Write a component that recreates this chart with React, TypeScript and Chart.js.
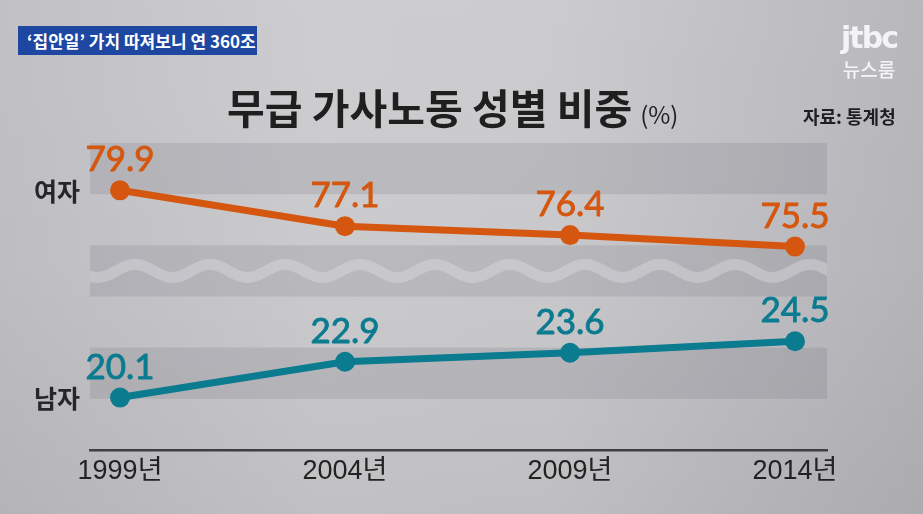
import React, { useEffect, useRef } from "react";
import { Chart, registerables } from "chart.js";

Chart.register(...registerables);

const years = [1999, 2004, 2009, 2014];
const xTickLabels = ["1999년", "2004년", "2009년", "2014년"];
const femaleShare = [79.9, 77.1, 76.4, 75.5];
const maleShare = [20.1, 22.9, 23.6, 24.5];
const seriesNames = ["여자", "남자"];
const seriesColors = ["#d5570f", "#0b7b90"];

const W = 923;
const H = 514;
const CJK = "'Noto Sans CJK KR', 'Noto Sans', sans-serif";

const bandsPlugin = {
  id: "bands",
  beforeDatasetsDraw(chart: any) {
    const { ctx, chartArea } = chart;
    const yM = chart.scales.yM;
    const left = chartArea.left;
    const right = chartArea.right;
    ctx.save();
    const bands = [
      [36, 40],
      [28, 32],
      [20, 24],
    ];
    ctx.fillStyle = "rgba(80,80,95,0.14)";
    bands.forEach(([a, b]) => {
      const y1 = yM.getPixelForValue(b);
      const y2 = yM.getPixelForValue(a);
      ctx.fillRect(left, y1, right - left, y2 - y1);
    });
    // wavy break line in the middle band
    const top = yM.getPixelForValue(32);
    const bot = yM.getPixelForValue(28);
    const cy = yM.getPixelForValue(30);
    ctx.beginPath();
    ctx.rect(left, top, right - left, bot - top);
    ctx.clip();
    ctx.beginPath();
    const amp = 6.5;
    const period = 75;
    for (let x = left - 10; x <= right + 10; x += 1) {
      const y = cy - amp * Math.cos((2 * Math.PI * (x - 135)) / period);
      if (x === left - 10) ctx.moveTo(x, y);
      else ctx.lineTo(x, y);
    }
    ctx.strokeStyle = "rgba(225,225,230,0.38)";
    ctx.lineWidth = 11;
    ctx.stroke();
    ctx.restore();
  },
};

const labelsPlugin = {
  id: "valueLabels",
  afterDatasetsDraw(chart: any) {
    const { ctx } = chart;
    ctx.save();
    chart.data.datasets.forEach((ds: any, di: number) => {
      const meta = chart.getDatasetMeta(di);
      ctx.fillStyle = ds.borderColor;
      ctx.strokeStyle = ds.borderColor;
      ctx.lineWidth = 0.9;
      ctx.lineJoin = "round";
      ctx.font = "35px Lato, 'Open Sans', sans-serif";
      ctx.textAlign = "center";
      ctx.textBaseline = "alphabetic";
      meta.data.forEach((pt: any, i: number) => {
        const v = ds.data[i].y;
        ctx.fillText(v.toFixed(1), pt.x, pt.y - 19);
        ctx.strokeText(v.toFixed(1), pt.x, pt.y - 19);
      });
      const first = meta.data[0];
      ctx.fillStyle = "#262626";
      ctx.font = "bold 25px " + CJK;
      ctx.textAlign = "right";
      ctx.textBaseline = "middle";
      ctx.fillText(ds.label, 80, first.y + 1);
    });
    ctx.restore();
  },
};

export default function App() {
  const canvasRef = useRef<HTMLCanvasElement | null>(null);

  useEffect(() => {
    const prevMargin = document.body.style.margin;
    document.body.style.margin = "0";
    const canvas = canvasRef.current;
    if (!canvas) return;
    const chart = new Chart(canvas, {
      type: "line",
      data: {
        datasets: [
          {
            label: seriesNames[0],
            data: years.map((y, i) => ({ x: y, y: femaleShare[i] })),
            borderColor: seriesColors[0],
            backgroundColor: seriesColors[0],
            pointBackgroundColor: seriesColors[0],
            borderWidth: 7,
            pointRadius: 10,
            pointBorderWidth: 0,
            yAxisID: "yF",
            clip: false,
            tension: 0,
          },
          {
            label: seriesNames[1],
            data: years.map((y, i) => ({ x: y, y: maleShare[i] })),
            borderColor: seriesColors[1],
            backgroundColor: seriesColors[1],
            pointBackgroundColor: seriesColors[1],
            borderWidth: 7,
            pointRadius: 10,
            pointBorderWidth: 0,
            yAxisID: "yM",
            clip: false,
            tension: 0,
          },
        ],
      },
      options: {
        responsive: false,
        animation: false,
        layout: { padding: { left: 90, right: 96, top: 143, bottom: 0 } },
        plugins: {
          legend: { display: false },
          tooltip: { enabled: false },
          title: { display: false },
        },
        scales: {
          x: {
            type: "linear",
            min: 1998.333,
            max: 2014.711,
            afterFit: (s: any) => {
              s.height = 64;
            },
            afterBuildTicks: (s: any) => {
              s.ticks = years.map((v) => ({ value: v }));
            },
            grid: { display: false, drawTicks: false },
            border: { display: true, color: "#3f3f42", width: 2.5 },
            ticks: {
              padding: 5,
              color: "#222222",
              font: { family: "'Liberation Sans', 'Noto Sans CJK KR', sans-serif", size: 27 },
              maxRotation: 0,
              autoSkip: false,
              callback: (v: any) => xTickLabels[years.indexOf(Number(v))] ?? "",
            },
          },
          yF: { type: "linear", display: false, min: 59.6, max: 83.6 },
          yM: { type: "linear", display: false, min: 16, max: 40 },
        },
      },
      plugins: [bandsPlugin, labelsPlugin],
    });
    return () => {
      chart.destroy();
      document.body.style.margin = prevMargin;
    };
  }, []);

  return (
    <div
      style={{
        position: "fixed",
        left: 0,
        top: 0,
        width: W,
        height: H,
        overflow: "hidden",
        background:
          "linear-gradient(to right, #bebec2 0%, #cbcbce 35%, #c9c9cc 60%, #b4b4b9 100%)",
      }}
    >
      <div
        style={{
          position: "absolute",
          left: 0,
          top: 0,
          width: W,
          height: H,
          background: "linear-gradient(to bottom, rgba(255,255,255,0.05) 0%, rgba(255,255,255,0) 50%, rgba(0,0,0,0.05) 100%)",
        }}
      />
      <canvas ref={canvasRef} width={W} height={H} style={{ position: "absolute", left: 0, top: 0 }} />
      <div
        style={{
          position: "absolute",
          left: 18,
          top: 26,
          width: 239,
          height: 29,
          background: "#1d47a0",
          color: "#ffffff",
          fontFamily: CJK,
          fontWeight: 700,
          fontSize: 17,
          lineHeight: "29px",
          paddingLeft: 9,
          boxSizing: "border-box",
          whiteSpace: "nowrap",
        }}
      >
        ‘집안일’ 가치 따져보니 연 360조
      </div>
      <div
        style={{
          position: "absolute",
          left: 227,
          top: 84,
          fontFamily: CJK,
          fontWeight: 700,
          fontSize: 41,
          lineHeight: "44px",
          color: "#1f1f1f",
          whiteSpace: "nowrap",
        }}
      >
        무급 가사노동 성별 비중
        <span style={{ fontSize: 24, fontWeight: 400, marginLeft: 8 }}>(%)</span>
      </div>
      <div
        style={{
          position: "absolute",
          left: 803,
          top: 103,
          fontFamily: CJK,
          fontWeight: 700,
          fontSize: 18,
          lineHeight: "26px",
          color: "#1f1f1f",
          whiteSpace: "nowrap",
        }}
      >
        자료: 통계청
      </div>
      <div
        style={{
          position: "absolute",
          left: 840,
          top: 20,
          width: 58,
          textAlign: "center",
          fontFamily: "'DejaVu Sans', sans-serif",
          fontWeight: 700,
          fontSize: 30,
          letterSpacing: -2,
          lineHeight: "36px",
          color: "#f4f4f6",
          whiteSpace: "nowrap",
        }}
      >
        jtbc
      </div>
      <div
        style={{
          position: "absolute",
          left: 840,
          top: 56,
          width: 58,
          textAlign: "center",
          fontFamily: CJK,
          fontWeight: 500,
          fontSize: 19,
          lineHeight: "26px",
          color: "#f4f4f6",
          whiteSpace: "nowrap",
        }}
      >
        뉴스룸
      </div>
    </div>
  );
}
